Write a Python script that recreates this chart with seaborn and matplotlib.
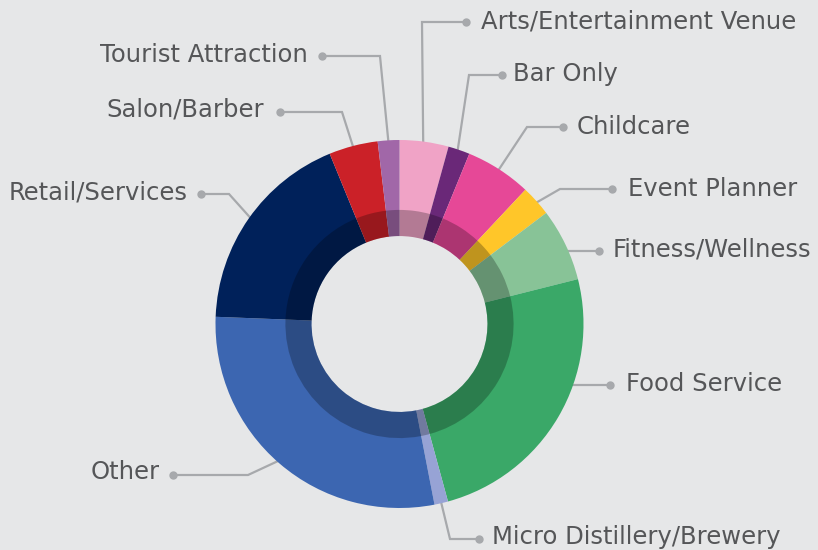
import numpy as np
import matplotlib.pyplot as plt
import seaborn as sns

# slice data (clockwise from 12 o'clock)
categories = ["Arts/Entertainment Venue", "Bar Only", "Childcare", "Event Planner",
              "Fitness/Wellness", "Food Service", "Micro Distillery/Brewery", "Other",
              "Retail/Services", "Salon/Barber", "Tourist Attraction"]
shares = [4.3, 1.9, 5.8, 2.7, 6.4, 24.7, 1.2, 28.7, 18.2, 4.3, 1.9]
slice_colors = ["#F0A3C6", "#6A2878", "#E64897", "#FFC629", "#88C397", "#3AA868",
                "#97A3D5", "#3C66B1", "#00215A", "#CB2128", "#A167A8"]

BG = "#E6E7E8"
TEXT = "#555658"
LINE = "#A7A9AC"

sns.set_theme(style="white", rc={"axes.facecolor": BG, "figure.facecolor": BG})
plt.rcParams['font.family'] = ['DejaVu Sans']

# pixel geometry of the donut
W, H = 818, 550
CX, CY, R = 399.5, 324.0, 184.0
HOLE = 0.478
DARK = 0.62


def px(x, y):
    return (x - CX) / R, (CY - y) / R


# label layout in pixels: text x, text y, ha, dot x, dot y, elbow (None = straight horizontal)
layout = {
    "Arts/Entertainment Venue": (481, 22, "left", 466, 22, (422, 22)),
    "Bar Only": (513, 74, "left", 502, 75, (469, 75)),
    "Childcare": (577, 127, "left", 563, 127, (527, 127)),
    "Event Planner": (628, 189, "left", 612, 189, (560, 189)),
    "Fitness/Wellness": (613, 250, "left", 599, 251, None),
    "Food Service": (626, 384, "left", 610, 385, None),
    "Micro Distillery/Brewery": (492, 537, "left", 479, 539, (450, 539)),
    "Other": (160, 472, "right", 173, 475, (248, 475)),
    "Retail/Services": (188, 192, "right", 201, 194, (229, 194)),
    "Salon/Barber": (264, 110, "right", 280, 112, (342, 112)),
    "Tourist Attraction": (308, 55, "right", 322, 56, (380, 56)),
}

fig = plt.figure(figsize=(W / 100, H / 100), dpi=100)
ax = fig.add_axes([0, 0, 1, 1])

palette = sns.color_palette(slice_colors)
ax.pie(shares, colors=palette, startangle=90, counterclock=False, radius=1.0,
       wedgeprops=dict(width=1.0 - HOLE, linewidth=0))
# darker inner band
ax.pie(shares, colors=["black"] * len(shares), startangle=90, counterclock=False,
       radius=DARK, wedgeprops=dict(width=DARK - HOLE, linewidth=0, alpha=0.25))

ax.set_xlim(-CX / R, (W - CX) / R)
ax.set_ylim((CY - H) / R, CY / R)
ax.set_aspect("auto")
ax.axis("off")

# leader lines and labels
total = float(sum(shares))
cum = np.cumsum([0] + shares[:-1])
for name, start, val in zip(categories, cum, shares):
    mid = np.deg2rad((start + val / 2) / total * 360.0)
    tx, ty, ha, dx, dy, elbow = layout[name]
    dot = px(dx, dy)
    if elbow is None:
        ey = dot[1]
        end = (np.sign(dot[0]) * np.sqrt(1 - ey ** 2) * 0.97, ey)
        xs, ys = [dot[0], end[0]], [dot[1], end[1]]
    else:
        el = px(*elbow)
        end = (0.96 * np.sin(mid), 0.96 * np.cos(mid))
        xs, ys = [dot[0], el[0], end[0]], [dot[1], el[1], end[1]]
    ax.plot(xs, ys, color=LINE, lw=1.6, zorder=0.5, solid_joinstyle="miter")
    ax.plot([dot[0]], [dot[1]], "o", color=LINE, ms=5, zorder=3)
    t = px(tx, ty)
    ax.text(t[0], t[1], name, ha=ha, va="center", fontsize=17.5, color=TEXT)

fig.savefig("out.png", dpi=100, facecolor=BG)
